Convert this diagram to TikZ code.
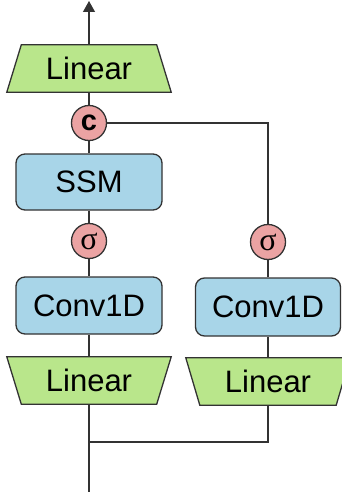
\documentclass[tikz,border=0pt]{standalone}
\usepackage{fontspec}
\setmainfont{Liberation Sans}
\newfontfamily\serifsig{Liberation Serif}
\usetikzlibrary{arrows.meta}
\definecolor{lingreen}{HTML}{B9E68B}
\definecolor{boxblue}{HTML}{A8D5E8}
\definecolor{opink}{HTML}{EBA3A3}
\definecolor{edge}{HTML}{333333}
\begin{document}
\begin{tikzpicture}[x=1pt,y=-1pt,
  wire/.style={draw=edge,line width=1.1pt},
  shapeline/.style={draw=edge,line width=1.3pt},
  blockbox/.style={shapeline,fill=boxblue,rounded corners=9pt,minimum width=146pt,minimum height=56pt,inner sep=0pt,font=\fontsize{31}{31}\selectfont},
  opcircle/.style={shapeline,fill=opink,circle,minimum size=35pt,inner sep=0pt},
  linframe/.style={minimum width=164pt,minimum height=47pt,inner sep=0pt},
  lintext/.style={font=\fontsize{31}{31}\selectfont},
  linfill/.style={shapeline,fill=lingreen,line join=miter}
]
\useasboundingbox (0,0) rectangle (341,492);

% frames for the trapezoids
\node[linframe] (L1) at (89,68.5) {};
\node[linframe] (L2) at (89,380.5) {};
\node[linframe] (L3) at (268,381.5) {};

% trapezoid shapes
\draw[linfill] (L1.south west) -- (L1.south east) -- ([xshift=-14.5pt]L1.north east) -- ([xshift=14.5pt]L1.north west) -- cycle;
\draw[linfill] (L2.north west) -- (L2.north east) -- ([xshift=-14.5pt]L2.south east) -- ([xshift=14.5pt]L2.south west) -- cycle;
\draw[linfill] (L3.north west) -- (L3.north east) -- ([xshift=-14pt]L3.south east) -- ([xshift=14pt]L3.south west) -- cycle;
\node[lintext] at (L1) {Linear};
\node[lintext] at (L2) {Linear};
\node[lintext] at (L3) {Linear};

% other nodes
\node[opcircle,font=\fontsize{29}{29}\selectfont\bfseries] (C) at (89,123) {c};
\node[blockbox] (SSM) at (89,182) {SSM};
\node[opcircle,font=\fontsize{32}{32}\selectfont\serifsig] (S1) at (89,241) {σ};
\node[blockbox,minimum height=57pt] (CV1) at (89,305.5) {Conv1D};
\node[opcircle,font=\fontsize{32}{32}\selectfont\serifsig] (S2) at (268,242) {σ};
\node[blockbox,minimum width=145pt,minimum height=58pt] (CV2) at (268,307) {Conv1D};

\coordinate (top) at (89,1);
\coordinate (in) at (89,492);
\coordinate (J) at (89,442);
\coordinate (JR) at (268,442);
\coordinate (CR) at (268,123);

% connectors
\draw[wire,-{Triangle[width=12pt,length=11pt]}] (L1.north) -- (top);
\draw[wire] (L1.south) -- (C.north);
\draw[wire] (C.south) -- (SSM.north);
\draw[wire] (SSM.south) -- (S1.north);
\draw[wire] (S1.south) -- (CV1.north);
\draw[wire] (CV1.south) -- (L2.north);
\draw[wire] (in) -- (L2.south);
\draw[wire] (J) -- (JR) -- (L3.south);
\draw[wire] (L3.north) -- (CV2.south);
\draw[wire] (CV2.north) -- (S2.south);
\draw[wire] (C.east) -- (CR) -- (S2.north);
\end{tikzpicture}
\end{document}
